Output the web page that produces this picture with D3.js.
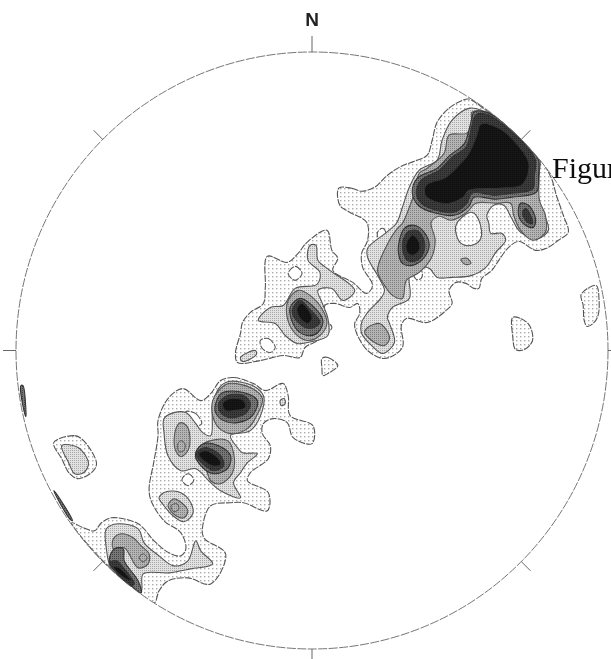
<!DOCTYPE html>
<html>
<head>
  <title>Stereonet contours</title>
  <script src="https://d3js.org/d3.v7.min.js"></script>
  <style>
    html, body { margin: 0; padding: 0; background: #fff; overflow: hidden; }
    svg { display: block; }
  </style>
</head>
<body>
  <div id="chart"></div>
  <script>
    // contour rings, [east, south] from the net centre
    const level1 = [
      [[27,-162],[40,-162],[50,-159],[63,-163],[76,-175],[90,-184],[103,-189],[116,-195],[121,-210],[126,-228],[138,-242],[150,-249],[158,-251],[175,-240],[188,-231],[203,-219],[218,-204],[230,-191],[241,-172],[246,-155],[253,-135],[258,-118],[248,-110],[236,-102],[225,-100],[208,-109],[198,-103],[188,-90],[181,-80],[171,-72],[168,-62],[163,-62],[155,-67],[145,-68],[138,-60],[141,-47],[135,-40],[116,-28],[95,-32],[90,-25],[91,-3],[73,8],[56,0],[45,-17],[43,-27],[48,-37],[46,-47],[38,-43],[23,-47],[13,-45],[15,-30],[20,-23],[6,-10],[-7,-3],[-12,7],[-29,5],[-52,10],[-75,12],[-77,2],[-72,-17],[-70,-28],[-62,-38],[-49,-47],[-47,-63],[-45,-94],[-25,-88],[-14,-97],[-5,-108],[15,-120],[20,-100],[26,-92],[21,-80],[41,-68],[55,-57],[61,-65],[51,-83],[50,-97],[56,-110],[55,-128],[38,-138],[28,-145]],
      [[-24,-77],[-17,-84],[-10,-77],[-17,-70]],
      [[-52,-10],[-44,-12],[-37,-3],[-42,2],[-50,-2]],
      [[66,-118],[71,-122],[75,-115],[72,-108],[67,-111]],
      [[102,-78],[107,-83],[111,-78],[110,-72],[105,-71]],
      [[-92,30],[-79,27],[-59,33],[-47,40],[-29,33],[-24,45],[-22,65],[1,75],[0,93],[-19,87],[-25,72],[-39,68],[-49,73],[-50,83],[-42,95],[-44,108],[-62,122],[-65,130],[-44,142],[-45,160],[-69,152],[-82,152],[-102,155],[-110,175],[-109,187],[-87,203],[-102,233],[-125,227],[-145,230],[-154,240],[-159,252],[-182,235],[-202,218],[-222,198],[-242,172],[-230,177],[-219,180],[-212,172],[-202,167],[-175,173],[-159,190],[-144,202],[-132,205],[-127,198],[-132,182],[-149,170],[-162,150],[-164,138],[-159,110],[-155,85],[-155,70],[-145,48],[-130,38],[-112,50],[-102,43]],
      [[-131,129],[-125,123],[-119,129],[-125,135]],
      [[-127,61],[-117,63],[-111,73],[-116,75],[-123,69]],
      [[-260,92],[-239,85],[-230,90],[-217,112],[-220,120],[-235,128],[-244,123],[-252,108]],
      [[271,-56],[286,-65],[289,-50],[288,-35],[284,-28],[277,-24],[274,-30],[273,-45]],
      [[202,-33],[210,-32],[219,-25],[222,-10],[214,-1],[205,-1],[202,-15]],
      [[10,8],[16,7],[26,15],[16,23],[11,25],[10,17]]
    ];
    const level2 = [
      [[56,-102],[75,-118],[85,-127],[91,-143],[98,-163],[108,-180],[126,-190],[131,-210],[141,-230],[159,-242],[175,-238],[188,-231],[203,-219],[218,-204],[229,-192],[229,-180],[225,-153],[235,-133],[238,-120],[228,-112],[210,-118],[201,-132],[193,-145],[183,-145],[176,-135],[178,-127],[180,-117],[191,-117],[195,-110],[185,-98],[175,-83],[161,-75],[141,-73],[126,-73],[118,-82],[105,-83],[98,-75],[98,-52],[81,-43],[76,-33],[78,-27],[83,-8],[71,3],[60,-5],[50,-17],[50,-28],[56,-38],[70,-53],[73,-60],[66,-75],[56,-93]],
      [[145,-117],[150,-107],[161,-105],[170,-112],[168,-130],[161,-138],[151,-133],[145,-125]],
      [[-2,-105],[4,-105],[6,-90],[18,-80],[43,-60],[31,-50],[20,-62],[6,-60],[10,-48],[16,-32],[16,-15],[0,-9],[-15,-7],[-27,-15],[-37,-27],[-54,-30],[-42,-43],[-29,-45],[-17,-62],[5,-66],[8,-78],[-4,-90]],
      [[-72,7],[-57,0],[-56,4],[-70,11]],
      [[-149,68],[-139,62],[-127,62],[-117,73],[-110,82],[-102,85],[-100,55],[-94,38],[-84,31],[-60,35],[-49,45],[-50,60],[-62,80],[-82,85],[-75,97],[-70,102],[-55,103],[-65,112],[-72,122],[-79,132],[-72,147],[-92,140],[-104,130],[-117,118],[-132,120],[-145,105],[-149,82]],
      [[-154,147],[-147,141],[-132,142],[-122,152],[-120,163],[-129,171],[-140,165],[-149,155]],
      [[-32,50],[-28,48],[-27,53],[-31,55]],
      [[-252,95],[-235,97],[-225,113],[-230,122],[-239,123],[-245,112]],
      [[-207,178],[-195,173],[-175,178],[-169,192],[-154,205],[-139,215],[-125,210],[-117,190],[-112,200],[-100,213],[-122,218],[-144,222],[-170,223],[-172,240],[-182,235],[-202,218],[-207,198]]
    ];
    const level3 = [
      [[161,-238],[161,-227],[156,-217],[138,-215],[133,-197],[116,-182],[108,-177],[103,-157],[98,-143],[91,-127],[86,-122],[78,-110],[66,-80],[73,-65],[81,-55],[91,-52],[95,-70],[108,-78],[120,-92],[124,-110],[120,-128],[128,-134],[140,-130],[156,-138],[165,-147],[185,-147],[200,-147],[203,-135],[210,-120],[223,-110],[235,-118],[235,-135],[229,-150],[229,-180],[229,-192],[218,-204],[203,-219],[188,-231],[175,-238]],
      [[150,-91],[156,-92],[160,-87],[154,-86]],
      [[53,-18],[56,-23],[68,-27],[73,-23],[78,-12],[73,-5],[63,-8]],
      [[-24,-50],[-14,-60],[-2,-55],[11,-40],[15,-27],[8,-15],[-5,-10],[-17,-17],[-25,-33]],
      [[-100,50],[-94,40],[-84,33],[-60,38],[-50,48],[-54,62],[-65,78],[-82,83],[-94,77],[-100,65]],
      [[-114,97],[-102,90],[-85,90],[-79,102],[-80,122],[-92,133],[-102,130],[-107,118],[-117,108]],
      [[-137,78],[-132,72],[-125,77],[-124,98],[-132,106],[-138,98]],
      [[-145,155],[-139,148],[-134,150],[-125,160],[-129,167],[-137,165]],
      [[-200,188],[-192,183],[-180,187],[-172,195],[-164,203],[-165,213],[-175,217],[-189,197],[-200,198]]
    ];
    const level4 = [
      [[163,-238],[175,-238],[188,-231],[203,-219],[218,-204],[228,-190],[228,-175],[226,-158],[201,-153],[185,-151],[163,-153],[158,-144],[143,-135],[125,-137],[108,-144],[101,-157],[106,-172],[126,-182],[139,-195],[153,-206],[158,-220],[161,-232]],
      [[210,-147],[218,-145],[225,-132],[223,-123],[215,-125],[208,-135]],
      [[87,-98],[91,-87],[101,-85],[113,-93],[118,-105],[113,-118],[103,-125],[93,-122],[88,-110]],
      [[-22,-43],[-12,-52],[0,-45],[11,-30],[6,-18],[-5,-15],[-17,-23]],
      [[-97,53],[-90,42],[-69,42],[-55,50],[-60,65],[-75,72],[-89,70],[-97,62]],
      [[-117,102],[-109,93],[-94,95],[-82,105],[-85,118],[-99,123],[-112,115]],
      [[-204,210],[-199,198],[-190,198],[-189,210],[-175,230],[-172,242],[-182,235],[-194,225]],
      [[-293,35],[-291,35],[-288,60],[-288,66],[-290,60]],
      [[-260,140],[-258,142],[-241,170],[-244,168]]
    ];
    const level5 = [
      [[166,-236],[175,-236],[188,-229],[203,-217],[218,-202],[225,-190],[224,-175],[222,-161],[201,-157],[185,-155],[161,-157],[156,-147],[143,-138],[125,-140],[110,-147],[105,-157],[110,-170],[128,-180],[141,-193],[155,-203],[160,-220],[163,-232]],
      [[215,-142],[220,-135],[222,-127],[217,-128],[212,-137]],
      [[91,-105],[96,-118],[105,-120],[112,-112],[113,-100],[106,-90],[96,-90]],
      [[-20,-40],[-12,-50],[-4,-43],[8,-28],[-2,-22],[-14,-28]],
      [[-94,53],[-85,45],[-69,45],[-62,53],[-67,63],[-82,67],[-92,62]],
      [[-117,103],[-107,97],[-92,105],[-89,115],[-99,120],[-110,113]],
      [[-204,212],[-197,210],[-189,218],[-179,233],[-184,235],[-194,225]]
    ];
    const level6 = [
      [[170,-226],[188,-222],[208,-204],[218,-188],[217,-175],[211,-165],[188,-162],[158,-160],[152,-153],[138,-147],[123,-149],[114,-155],[115,-165],[135,-173],[148,-185],[158,-197],[166,-215]],
      [[95,-107],[101,-115],[107,-110],[108,-100],[101,-95],[96,-98]],
      [[-15,-42],[-10,-47],[0,-33],[-4,-27],[-12,-32]],
      [[-90,53],[-82,48],[-69,50],[-67,57],[-79,60],[-87,60]],
      [[-114,103],[-107,100],[-94,108],[-92,114],[-100,115],[-109,110]],
      [[-200,216],[-194,217],[-182,230],[-192,225]]
    ];
    // small closed contours with no fill of their own
    const isolines = [
      [[-135,93],[-132,90],[-128,93],[-129,100],[-134,101]],
      [[-142,155],[-136,153],[-134,158],[-139,161]],
      [[-174,207],[-170,203],[-166,207],[-170,211]]
    ];
    const tickAzimuths = [0, 45, 90, 135, 180, 225, 270, 315];
    const northLabel = "N";
    const strayLabel = "Figur";

    const width = 611, height = 659;
    const netRadius = 298;

    const x = d3.scaleLinear().domain([-netRadius, netRadius]).range([16, 608]);
    const y = d3.scaleLinear().domain([-netRadius, netRadius]).range([52, 649]);

    const svg = d3.select("#chart").append("svg")
      .attr("width", width)
      .attr("height", height);

    const defs = svg.append("defs");

    defs.append("filter").attr("id", "scan")
      .attr("x", "-5%").attr("y", "-5%").attr("width", "110%").attr("height", "110%")
      .append("feGaussianBlur").attr("stdDeviation", 0.55);

    defs.append("clipPath").attr("id", "net")
      .append("ellipse")
        .attr("cx", x(0)).attr("cy", y(0))
        .attr("rx", x(netRadius) - x(0)).attr("ry", y(netRadius) - y(0));

    // screen tones: base colour, dot colour, cell size, dot size
    const tones = [
      {base: "#fff", dot: "#aaa", cell: 4, size: 1.4},
      {base: "#e2e2e2", dot: "#a8a8a8", cell: 2, size: 1},
      {base: "#b4b4b4", dot: "#808080", cell: 2, size: 1},
      {base: "#777", dot: "#444", cell: 2, size: 1},
      {base: "#3e3e3e", dot: "#222", cell: 2, size: 1},
      {base: "#151515", dot: "#080808", cell: 2, size: 1}
    ];

    tones.forEach((t, i) => {
      const p = defs.append("pattern")
        .attr("id", "tone" + i)
        .attr("patternUnits", "userSpaceOnUse")
        .attr("width", t.cell).attr("height", t.cell);
      p.append("rect").attr("width", t.cell).attr("height", t.cell).attr("fill", t.base);
      p.append("rect").attr("width", t.size).attr("height", t.size).attr("fill", t.dot);
    });

    const ringPath = d3.line()
      .x(d => x(d[0]))
      .y(d => y(d[1]))
      .curve(d3.curveCatmullRomClosed.alpha(0.5));

    const plot = svg.append("g").attr("filter", "url(#scan)");
    const contours = plot.append("g").attr("clip-path", "url(#net)");

    [level1, level2, level3, level4, level5, level6].forEach((rings, i) => {
      contours.append("path")
        .attr("d", rings.map(r => ringPath(r)).join(""))
        .attr("fill", "url(#tone" + i + ")")
        .attr("fill-rule", "evenodd")
        .attr("stroke", i < 3 ? "#555" : "#333")
        .attr("stroke-width", 1.1)
        .attr("stroke-dasharray", i === 0 ? "7 1.2" : null);
    });

    contours.selectAll(".isoline")
      .data(isolines)
      .enter()
      .append("path")
        .attr("class", "isoline")
        .attr("d", ringPath)
        .attr("fill", "none")
        .attr("stroke", "#555")
        .attr("stroke-width", 1);

    // net outline
    plot.append("ellipse")
      .attr("cx", x(0)).attr("cy", y(0))
      .attr("rx", x(netRadius) - x(0)).attr("ry", y(netRadius) - y(0))
      .attr("fill", "none")
      .attr("stroke", "#666")
      .attr("stroke-width", 0.9)
      .attr("stroke-dasharray", "9 1.5");

    // ticks every 45 degrees, longer at north
    plot.selectAll(".tick")
      .data(tickAzimuths)
      .enter()
      .append("line")
        .attr("class", "tick")
        .attr("x1", d => x(netRadius * Math.sin(d * Math.PI / 180)))
        .attr("y1", d => y(-netRadius * Math.cos(d * Math.PI / 180)))
        .attr("x2", d => x((netRadius + (d === 0 ? 16 : 13)) * Math.sin(d * Math.PI / 180)))
        .attr("y2", d => y(-(netRadius + (d === 0 ? 16 : 13)) * Math.cos(d * Math.PI / 180)))
        .attr("stroke", "#666")
        .attr("stroke-width", 1);

    plot.append("text")
      .attr("x", x(0))
      .attr("y", 26)
      .attr("text-anchor", "middle")
      .attr("font-family", "Liberation Sans")
      .attr("font-weight", "bold")
      .attr("font-size", 19)
      .attr("fill", "#222")
      .text(northLabel);

    plot.append("text")
      .attr("x", 552)
      .attr("y", 178)
      .attr("font-family", "Liberation Serif")
      .attr("font-size", 30)
      .attr("fill", "#111")
      .text(strayLabel);
  </script>
</body>
</html>
